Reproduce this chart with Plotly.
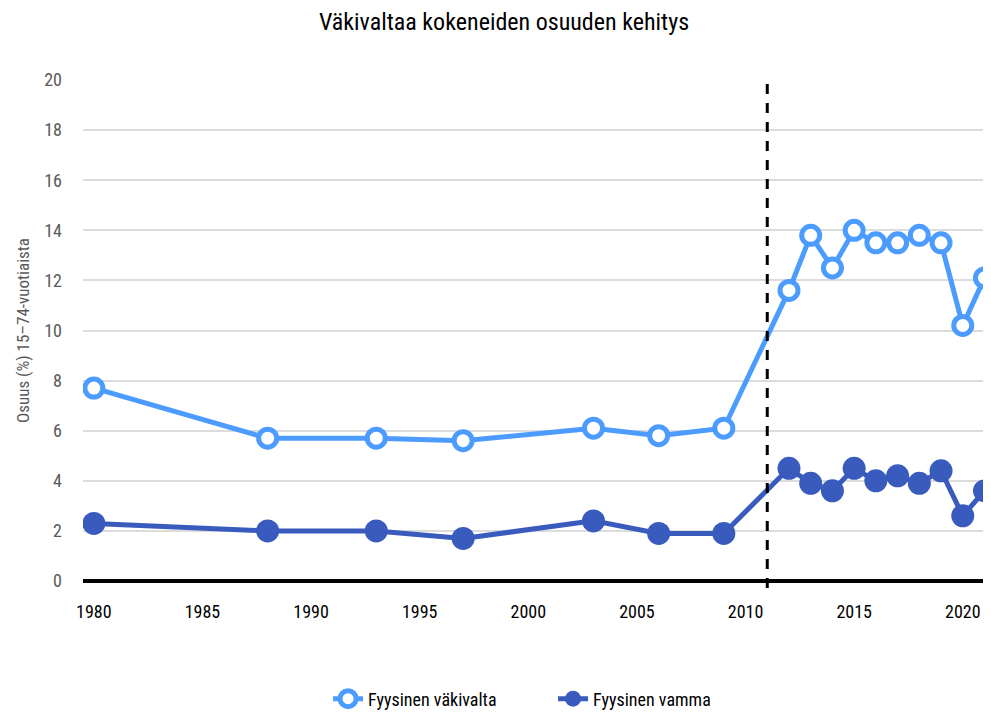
import plotly.graph_objects as go

years_vakivalta = [1980, 1988, 1993, 1997, 2003, 2006, 2009, 2012, 2013, 2014, 2015, 2016, 2017, 2018, 2019, 2020, 2021]
vakivalta = [7.7, 5.7, 5.7, 5.6, 6.1, 5.8, 6.1, 11.6, 13.8, 12.5, 14.0, 13.5, 13.5, 13.8, 13.5, 10.2, 12.1]
years_vamma = [1980, 1988, 1993, 1997, 2003, 2006, 2009, 2012, 2013, 2014, 2015, 2016, 2017, 2018, 2019, 2020, 2021]
vamma = [2.3, 2.0, 2.0, 1.7, 2.4, 1.9, 1.9, 4.5, 3.9, 3.6, 4.5, 4.0, 4.2, 3.9, 4.4, 2.6, 3.6]
series_names = ["Fyysinen väkivalta", "Fyysinen vamma"]
x_ticks = [1980, 1985, 1990, 1995, 2000, 2005, 2010, 2015, 2020]
y_ticks = [0, 2, 4, 6, 8, 10, 12, 14, 16, 18, 20]
break_year = 2011

FONT = "Roboto Condensed, Liberation Sans, sans-serif"
LIGHT = "#4C9BFF"
DARK = "#3A5BBE"

fig = go.Figure()
fig.add_trace(go.Scatter(
    x=years_vakivalta, y=vakivalta, name=series_names[0], mode="lines+markers",
    line=dict(color=LIGHT, width=5),
    marker=dict(symbol="circle", size=18, color="white", line=dict(color=LIGHT, width=5)),
))
fig.add_trace(go.Scatter(
    x=years_vamma, y=vamma, name=series_names[1], mode="lines+markers",
    line=dict(color=DARK, width=5),
    marker=dict(symbol="circle", size=23, color=DARK, line=dict(color=DARK, width=0)),
))

fig.add_shape(type="line", xref="x", yref="paper", x0=break_year, x1=break_year, y0=-0.014, y1=1.0,
              line=dict(color="black", width=3, dash="10px,9px"), layer="above")

fig.update_layout(
    width=983, height=704,
    margin=dict(l=75, r=0, t=72, b=131, autoexpand=False),
    paper_bgcolor="white", plot_bgcolor="white",
    font=dict(family=FONT, size=18, color="black"),
    title=dict(text="Väkivaltaa kokeneiden osuuden kehitys", x=0.5046, xanchor="center", y=0.980, yanchor="middle",
               font=dict(family=FONT, size=24, color="black")),
    showlegend=True,
    legend=dict(orientation="h", xref="container", yref="container", x=0.3256, xanchor="left",
                y=0.0185, yanchor="middle", entrywidth=180, entrywidthmode="pixels",
                font=dict(family=FONT, size=18, color="black")),
)
fig.update_xaxes(
    range=[1979.5, 2021.3], tickvals=x_ticks, ticktext=[str(t) for t in x_ticks],
    showgrid=False, zeroline=False, showline=False, ticks="",
    tickfont=dict(family=FONT, size=18, color="black"), ticklabelstandoff=18,
)
fig.update_yaxes(
    range=[0, 20], tickvals=y_ticks, showgrid=True, gridcolor="#DCDCDC", gridwidth=1.5,
    zeroline=True, zerolinecolor="black", zerolinewidth=3.5, showline=False, ticks="",
    tickfont=dict(family=FONT, size=18, color="#595959"), ticklabelstandoff=20,
    title=dict(text="Osuus (%) 15–74-vuotiaista", font=dict(family=FONT, size=17, color="#595959"), standoff=10),
)

fig.write_html("out.html")
